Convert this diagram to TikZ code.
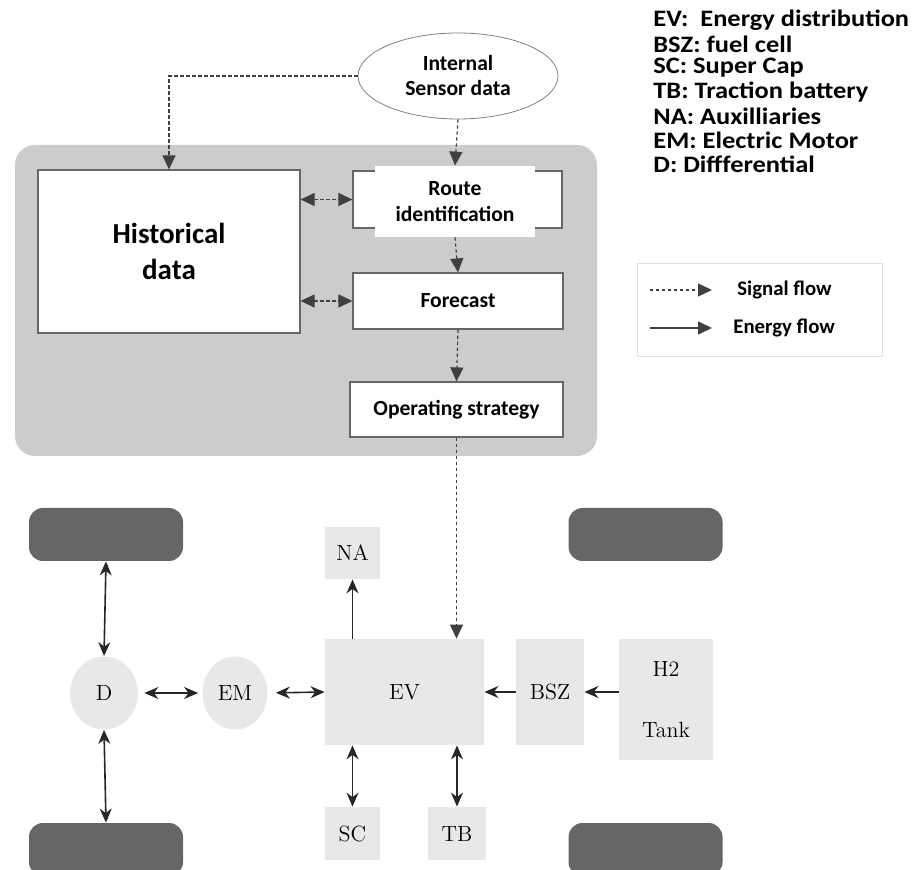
\documentclass[tikz,border=0pt]{standalone}
\usepackage{fontspec}
\usepackage{graphicx}
\newfontfamily\calib{Carlito}
\usetikzlibrary{arrows.meta,shapes.geometric}

\begin{document}
\begin{tikzpicture}[x=0.5pt,y=-0.5pt,
    sig/.style={dash pattern=on 1.6pt off 1.4pt, semithick, draw=black!75,
        -{Triangle[length=7pt,width=6.5pt]}, black!75},
    sigboth/.style={sig, {Triangle[length=7pt,width=6.5pt]}-{Triangle[length=7pt,width=6.5pt]}},
    nrg/.style={thick, draw=black!85, black!85,
        {Stealth[length=7pt,width=6pt]}-{Stealth[length=7pt,width=6pt]}},
    nrgone/.style={thick, draw=black!85, black!85, -{Stealth[length=7pt,width=6pt]}},
    blk/.style={draw=black!60, fill=white, semithick, inner sep=0pt,
        font=\calib\bfseries\fontsize{10.8}{13}\selectfont, align=center},
    wheel/.style={fill=black!60, rounded corners=7pt, minimum width=77pt, minimum height=26.5pt},
    part/.style={fill=black!9, inner sep=0pt, font=\fontsize{11}{12.5}\selectfont},
    lbl/.style={font=\calib\bfseries\fontsize{11.8}{13}\selectfont, anchor=west, inner sep=0pt}]

    \useasboundingbox (0,0) rectangle (915,870);
    \clip (0,0) rectangle (915,870);

    % Control unit: grey panel with its blocks
    \fill[black!20, rounded corners=10pt] (15,145) rectangle (597,456);
    \node[ellipse, draw=black!50, fill=white, minimum width=100pt, minimum height=43pt,
          font=\calib\bfseries\fontsize{10.8}{12.5}\selectfont, align=center, inner sep=0pt]
          (sensor) at (458,76) {Internal\\Sensor data};
    \node[blk, minimum width=131pt, minimum height=81.5pt,
          font=\calib\bfseries\fontsize{14.5}{18}\selectfont] (hist) at (169,251.5) {Historical\\data};
    \node[blk, minimum width=104.5pt, minimum height=28.5pt] (route) at (457.5,199.5) {};
    \node[fill=white, minimum width=80pt, minimum height=35.5pt, inner sep=0pt, align=center,
          font=\calib\bfseries\fontsize{10.8}{13}\selectfont] (routetxt) at (455,201.5) {Route\\identification};
    \node[blk, minimum width=105pt, minimum height=28pt] (fore) at (458,301) {Forecast};
    \node[blk, minimum width=106.5pt, minimum height=27.5pt] (oper) at (456.5,409.5) {Operating strategy};

    % Signal flow
    \draw[sig] (sensor.west) -| (hist.north);
    \draw[sig] (sensor.south) -- (routetxt.north);
    \draw[sigboth] (hist.east |- route.west) -- (route.west);
    \draw[sigboth] (hist.east |- fore.west) -- (fore.west);
    \draw[sig] (routetxt.south) -- (fore.north);
    \draw[sig] (fore.south) -- (oper.north);

    % Drive train
    \node[wheel] (wtl) at (106,534.5) {};
    \node[wheel] (wtr) at (645.5,534.5) {};
    \node[wheel] (wbl) at (106,849.5) {};
    \node[wheel] (wbr) at (645.5,849.5) {};
    \node[part, ellipse, minimum width=34pt, minimum height=36.5pt] (d) at (104,693) {D};
    \node[part, ellipse, minimum width=32.5pt, minimum height=36.5pt] (em) at (235,693) {EM};
    \node[part, minimum width=79.5pt, minimum height=53pt] (ev) at (404.5,692) {EV};
    \node[part, minimum width=34pt, minimum height=53pt] (bsz) at (550,692) {BSZ};
    \node[part, minimum width=47pt, minimum height=60.5pt, align=center] (tank) at (666,699.5) {H2\\[18pt]Tank};
    \node[part, minimum width=27.5pt, minimum height=26pt] (na) at (352.5,553) {NA};
    \node[part, minimum width=27.5pt, minimum height=26.5pt] (sc) at (352.5,833.5) {SC};
    \node[part, minimum width=29pt, minimum height=26.5pt] (tb) at (457,833.5) {TB};

    \draw[sig] (oper.south) -- (oper.south |- ev.north);

    % Energy flow
    \draw[nrg] (wtl.south) -- (d.north);
    \draw[nrg] (d.south) -- (wbl.north);
    \draw[nrg, shorten <=3pt, shorten >=2pt] (d.east) -- (em.west);
    \draw[nrg, shorten <=4pt] (em.east) -- (ev.west);
    \draw[nrgone] (na.south |- ev.north) -- (na.south);
    \draw[nrg] (sc.north |- ev.south) -- (sc.north);
    \draw[nrg] (tb.north |- ev.south) -- (tb.north);
    \draw[nrgone] (bsz.west) -- (ev.east);
    \draw[nrgone] (tank.west |- bsz.east) -- (bsz.east);

    % Abbreviations
    \foreach \t [count=\i] in {EV:~ Energy distribution, BSZ: fuel cell, SC: Super Cap,
        TB: Traction battery, NA: Auxilliaries, EM: Electric Motor, D: Diffferential}
        \node[lbl] (key\i) at (653,{-4+24*\i}) {\scalebox{1.12}[1]{\t}};

    % Legend
    \draw[black!12] (637,263) rectangle (882,356);
    \coordinate (sigA) at (650,290);
    \coordinate (sigB) at (712,290);
    \coordinate (nrgA) at (650,328);
    \coordinate (nrgB) at (712,328);
    \draw[sig] (sigA) -- (sigB);
    \draw[thick, black!75, -{Triangle[length=7pt,width=6.5pt]}] (nrgA) -- (nrgB);
    \node[lbl, font=\calib\bfseries\fontsize{10.4}{12}\selectfont] (sigtxt) at (737,290) {Signal flow};
    \node[lbl, font=\calib\bfseries\fontsize{10.4}{12}\selectfont] (nrgtxt) at (733,328) {Energy flow};
\end{tikzpicture}
\end{document}
